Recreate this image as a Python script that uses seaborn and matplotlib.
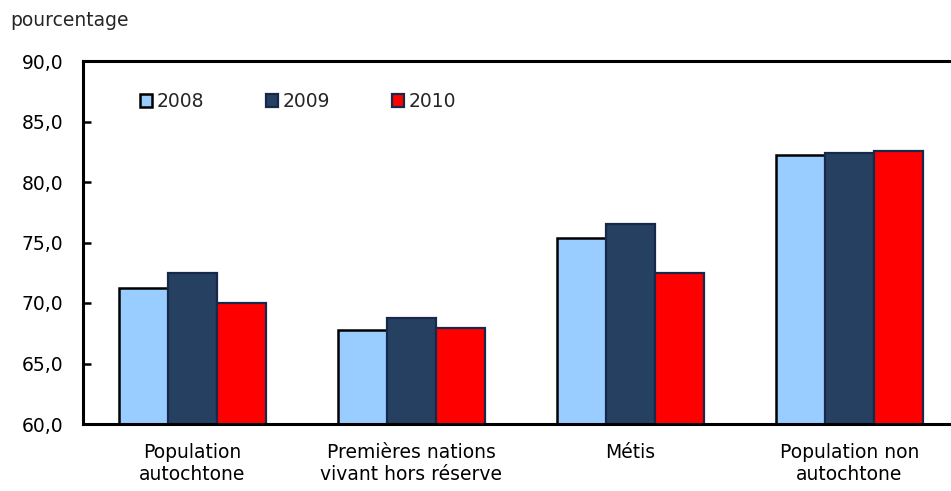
import pandas as pd
import matplotlib
matplotlib.use("Agg")
import matplotlib.pyplot as plt
import seaborn as sns
from matplotlib.ticker import FuncFormatter

sns.set_theme(style="white")
plt.rcParams['font.family'] = ['DejaVu Sans']

categories = ["Population\nautochtone", "Premières nations\nvivant hors réserve",
              "Métis", "Population non\nautochtone"]
years = ["2008", "2009", "2010"]
v2008 = [71.2, 67.8, 75.4, 82.2]
v2009 = [72.5, 68.8, 76.5, 82.4]
v2010 = [70.0, 67.9, 72.5, 82.6]

df = pd.DataFrame({"cat": categories, "2008": v2008, "2009": v2009, "2010": v2010})
df = pd.melt(df, id_vars=["cat"], var_name="year", value_name="value")

fills = {"2008": "#99CCFF", "2009": "#264061", "2010": "#FF0000"}
edges = {"2008": "#000000", "2009": "#17294A", "2010": "#17294A"}
fs = 13.5

fig = plt.figure(figsize=(9.51, 4.91), dpi=100)
ax = fig.add_axes([83 / 951, 67 / 491, 876 / 951, 363 / 491])

sns.barplot(data=df, x="cat", y="value", hue="year", hue_order=years,
            palette=fills, width=0.67, gap=0, ax=ax, legend=False,
            linewidth=1.6, saturation=1)

for cont, yr in zip(ax.containers, years):
    for p in cont:
        p.set_edgecolor(edges[yr])
        p.set_linewidth(1.8 if yr == "2008" else 1.6)

ax.set_ylim(60, 90)
ax.set_xlim(-0.5, 3.5)
ax.set_yticks([60, 65, 70, 75, 80, 85, 90])
ax.yaxis.set_major_formatter(FuncFormatter(lambda v, _: f"{v:.1f}".replace(".", ",")))
ax.tick_params(axis="y", direction="in", length=6, width=1.8, labelsize=fs,
               colors="black", left=True, pad=14)
ax.tick_params(axis="x", length=0, labelsize=fs, colors="black", pad=13.5)
ax.set_xlabel("")
ax.set_ylabel("")

for s in ["left", "top", "bottom"]:
    ax.spines[s].set_visible(True)
    ax.spines[s].set_color("black")
    ax.spines[s].set_linewidth(2.2)
ax.spines["right"].set_visible(False)

handles = [ax.containers[i][0] for i in range(3)]
ax.legend(handles, years, ncol=3, loc="upper left", bbox_to_anchor=(0.056, 0.935),
          frameon=False, fontsize=fs, handlelength=0.65, handleheight=0.65,
          handletextpad=0.25, columnspacing=3.3, borderaxespad=0)

fig.text(10 / 951, 1 - 20 / 491, "pourcentage", fontsize=fs, va="center", ha="left")

fig.savefig("out.png", dpi=100)
